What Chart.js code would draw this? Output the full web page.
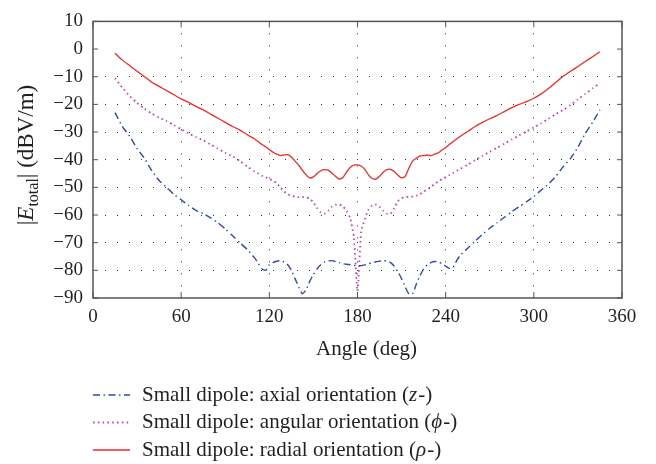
<!DOCTYPE html>
<html><head><meta charset="utf-8">
<script src="https://cdn.jsdelivr.net/npm/chart.js@4.4.0/dist/chart.umd.min.js"></script>
<style>html,body{margin:0;padding:0;background:#fff;}#wrap{width:656px;height:464px;}</style>
</head><body><div id="wrap"><canvas id="c" width="656" height="464"></canvas></div>
<script>
const angles = [15,20,25,30,35,40,45,50,55,60,65,70,75,80,85,90,95,100,105,110,
112.5,115,117.5,120,122.5,125,127.5,130,132.5,135,137.5,140,142.5,145,147.5,150,152.5,155,157.5,160,
162.5,165,167.5,170,172.5,175,177.5,180,182.5,185,187.5,190,192.5,195,197.5,200,202.5,205,207.5,210,
212.5,215,217.5,220,222.5,225,227.5,230,232.5,235,237.5,240,242.5,245,247.5,
250,255,260,265,270,275,280,285,290,295,300,305,310,315,320,325,330,335,340,345];

const axialZ = [-23,-28,-31.5,-36,-39.5,-44,-47.5,-50,-52.5,-54.5,-56.5,-58.3,-59.5,-61,-62.8,-65,-67.5,-70,-72.5,-75.5,
-77.5,-79.5,-80,-78,-77.2,-76.7,-76.5,-77,-78,-80,-83,-86,-88.5,-87,-84,-81.5,-79.5,-78,-77,-76.6,
-76.5,-76.8,-77.2,-77.6,-77.8,-78,-78.2,-78.3,-78.3,-78,-77.6,-77.2,-76.9,-76.7,-76.5,-76.6,-77.2,-78.5,-80.5,-83,
-86,-88.5,-88.5,-85,-82,-79.5,-78,-77.2,-76.8,-77,-77.6,-78.5,-79.3,-79,-76.5,
-74.5,-72,-69.5,-67,-64.8,-62.8,-60.8,-58.8,-57,-55.2,-53.3,-51,-48.8,-46,-42.5,-39.5,-35.5,-30.5,-26.5,-22];

const angularPhi = [-10.5,-14,-17,-19.5,-21.5,-23.3,-24.8,-26,-27.5,-29,-30.5,-31.8,-33,-34.5,-36,-37.5,-38.8,-40.5,-42.5,-44.3,
-45,-45.8,-46.3,-47,-47.5,-48.5,-50,-51.5,-52.5,-53,-53.4,-53.5,-53.5,-53.6,-54,-55.5,-57.5,-59,-59.5,-58.5,
-57,-56.3,-56.2,-56.8,-58.5,-61,-68,-87.5,-66,-61.5,-58,-56.5,-56.2,-57,-58.5,-59.5,-59.5,-57.5,-55,-54,
-53.5,-53.4,-53.3,-53,-52.5,-51.5,-50.8,-49.8,-48.8,-47.8,-47,-46.3,-45.5,-44.8,-44,
-43.3,-41.8,-40.2,-38.6,-37.1,-35.7,-34.2,-32.7,-31.2,-29.8,-28.3,-26.8,-25.2,-23.5,-22,-20.2,-18.2,-16.2,-14.2,-12.3];

const radialRho = [-1.5,-4,-6,-8,-10,-12,-13.5,-15,-16.5,-18,-19.3,-20.7,-22,-23.5,-25,-26.5,-28,-29.3,-31,-32.5,
-33.5,-34.5,-35.3,-36.3,-37.3,-38,-38.5,-38.3,-38.2,-39,-40.5,-42,-43.8,-45.5,-46.6,-46.2,-45,-44,-43.6,-43.8,
-44.8,-46,-47,-46.5,-44.5,-42.8,-42,-41.9,-42.3,-43.5,-45.5,-46.8,-47,-46,-44.5,-43.6,-43.5,-44.3,-45.6,-46.6,
-46,-43,-40.5,-39.5,-38.6,-38.5,-38.3,-38.6,-38,-37.5,-36.5,-35.6,-34.5,-33.5,-32.5,
-31.5,-29.8,-28,-26.5,-25.2,-24,-22.6,-21.2,-20,-19,-17.8,-16.2,-14.3,-12,-9.8,-8,-6.3,-4.5,-2.8,-1];

const xTicks = [0,60,120,180,240,300,360];
const yTicks = [10,0,-10,-20,-30,-40,-50,-60,-70,-80,-90];
const seriesLabels = ['Small dipole: axial orientation (z-)','Small dipole: angular orientation (\u03d5-)','Small dipole: radial orientation (\u03c1-)'];
const xTitle = 'Angle (deg)';

const FONT = "'Liberation Serif', 'DejaVu Serif', serif";
const TXT = '#231f20';
const pts = vals => angles.map((a,i)=>({x:a,y:vals[i]}));

const gridColor = c => {
  const v = c.tick ? c.tick.value : null;
  return (v === xTicks[0] || v === xTicks[xTicks.length-1] || v === yTicks[0] || v === yTicks[yTicks.length-1]) ? 'rgba(0,0,0,0)' : '#333';
};

const decor = {
  id:'decor',
  afterDraw(chart){
    const ctx = chart.ctx, a = chart.chartArea, xs = chart.scales.x, ys = chart.scales.y;
    ctx.save();
    // box + inward ticks
    ctx.strokeStyle = '#555'; ctx.lineWidth = 1.5; ctx.setLineDash([]);
    ctx.strokeRect(a.left, a.top, a.right-a.left, a.bottom-a.top);
    ctx.lineWidth = 1;
    xTicks.forEach(v=>{const p = xs.getPixelForValue(v);
      ctx.beginPath(); ctx.moveTo(p,a.bottom); ctx.lineTo(p,a.bottom-6); ctx.moveTo(p,a.top); ctx.lineTo(p,a.top+6); ctx.stroke();});
    yTicks.forEach(v=>{const p = ys.getPixelForValue(v);
      ctx.beginPath(); ctx.moveTo(a.left,p); ctx.lineTo(a.left+5,p); ctx.moveTo(a.right,p); ctx.lineTo(a.right-5,p); ctx.stroke();});
    // x title
    ctx.fillStyle = TXT; ctx.textBaseline = 'alphabetic'; ctx.textAlign = 'center';
    ctx.font = `21px ${FONT}`;
    ctx.fillText(xTitle, (a.left+a.right)/2 + 9, 355);
    ctx.textAlign = 'left';
    // y title
    const fs = 23;
    const parts = [
      {t:'|', f:`${fs}px ${FONT}`, dy:0},
      {t:'E', f:`italic ${fs}px ${FONT}`, dy:0},
      {t:'total', f:`${Math.round(fs*0.68)}px ${FONT}`, dy:5},
      {t:'| (dBV/m)', f:`${fs}px ${FONT}`, dy:0}
    ];
    let w = 0; parts.forEach(p=>{ctx.font=p.f; p.w=ctx.measureText(p.t).width; w+=p.w;});
    ctx.translate(33, 155);
    ctx.rotate(-Math.PI/2);
    let x = -w/2;
    parts.forEach(p=>{ctx.font=p.f; ctx.fillText(p.t, x, p.dy); x+=p.w;});
    ctx.restore();
    // legend
    ctx.save();
    const rows = [395, 422.5, 450];
    chart.data.datasets.forEach((ds,i)=>{
      const y = rows[i];
      ctx.strokeStyle = ds.borderColor; ctx.lineWidth = ds.borderWidth;
      ctx.setLineDash(ds.borderDash || []);
      ctx.beginPath(); ctx.moveTo(93,y); ctx.lineTo(130,y); ctx.stroke();
      ctx.setLineDash([]);
      const lab = ds.label; const k = lab.lastIndexOf('(');
      const segs = [{t:lab.slice(0,k+1), it:false},{t:lab.charAt(k+1), it:true},{t:lab.slice(k+2), it:false}];
      let xx = 142; ctx.fillStyle = TXT; ctx.textBaseline = 'middle';
      segs.forEach(s=>{ctx.font = `${s.it?'italic ':''}21px ${FONT}`; ctx.fillText(s.t, xx, y); xx += ctx.measureText(s.t).width + (s.it?1:0);});
    });
    ctx.restore();
  }
};

new Chart(document.getElementById('c'), {
  type:'line',
  data:{datasets:[
    {label:seriesLabels[0], data:pts(axialZ), borderColor:'#2d4da8', borderWidth:1.4, borderDash:[7,3.5,1.5,3.5], pointRadius:0, tension:0.2, fill:false},
    {label:seriesLabels[1], data:pts(angularPhi), borderColor:'#c04ab8', borderWidth:1.8, borderDash:[1.6,3.2], pointRadius:0, tension:0.2, fill:false},
    {label:seriesLabels[2], data:pts(radialRho), borderColor:'#ee2a2a', borderWidth:1.3, pointRadius:0, tension:0.2, fill:false}
  ]},
  options:{
    responsive:false, animation:false, devicePixelRatio:1,
    layout:{padding:{left:0,right:34,top:17,bottom:103}},
    plugins:{legend:{display:false}, tooltip:{enabled:false}},
    scales:{
      x:{type:'linear', min:0, max:360,
        afterBuildTicks(s){ s.ticks = xTicks.map(v=>({value:v})); },
        afterFit(s){ s.height = 63; },
        ticks:{font:{family:FONT,size:19}, color:TXT, padding:8, maxRotation:0, autoSkip:false},
        grid:{color:gridColor, lineWidth:1, drawTicks:false},
        border:{display:false, dash:[1,11]},
        title:{display:false}
      },
      y:{min:-90, max:10,
        afterBuildTicks(s){ s.ticks = yTicks.map(v=>({value:v})); },
        afterFit(s){ s.width = 93; },
        ticks:{font:{family:FONT,size:19}, color:TXT, padding:10, autoSkip:false, callback:v=>String(v).replace('-','\u2212')},
        grid:{color:gridColor, lineWidth:1, drawTicks:false},
        border:{display:false, dash:[1,11]}
      }
    }
  },
  plugins:[decor]
});
</script></body></html>
